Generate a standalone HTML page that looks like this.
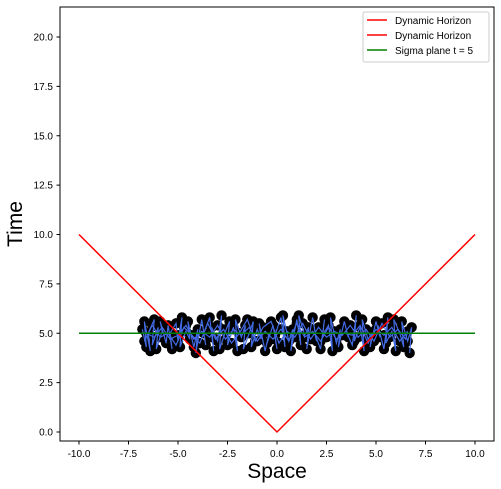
<!DOCTYPE html>
<html><head><meta charset="utf-8"><style>
body{margin:0;background:#fff;}
svg{display:block;font-family:"Liberation Sans","DejaVu Sans",sans-serif;}
</style></head><body>
<svg id="chart" width="501" height="489" viewBox="0 0 501 489">
<rect x="60" y="7" width="434" height="434" fill="#fff"/>
<g id="ticks"></g>
<g id="series"></g>
<rect x="60" y="7" width="434" height="434" fill="none" stroke="#000" stroke-width="1"/>
<text x="277" y="478" font-size="21" text-anchor="middle">Space</text>
<text x="22" y="224" font-size="21" text-anchor="middle" transform="rotate(-90 22 224)">Time</text>
<g>
<rect x="363" y="12" width="126" height="50" rx="2" fill="#fff" fill-opacity="0.8" stroke="#ccc"/>
<line x1="367" y1="20" x2="387" y2="20" stroke="red" stroke-width="1.5"/>
<text x="395" y="24" font-size="10">Dynamic Horizon</text>
<line x1="367" y1="35" x2="387" y2="35" stroke="red" stroke-width="1.5"/>
<text x="395" y="39" font-size="10">Dynamic Horizon</text>
<line x1="367" y1="50" x2="387" y2="50" stroke="green" stroke-width="1.5"/>
<text x="395" y="54" font-size="10">Sigma plane t = 5</text>
</g>
</svg>
<script>
const xTicks=[-10,-7.5,-5,-2.5,0,2.5,5,7.5,10];
const yTicks=[0,2.5,5,7.5,10,12.5,15,17.5,20];
const horizonX=[-10,0,10];
const horizonT=[10,0,10];
const sigmaT=5;
const ptX=[-6.8,-6.6,-6.7,-6.4,-6.5,-6.2,-6.3,-6.0,-6.1,-5.8,-5.9,-5.6,-5.5,-5.3,-5.4,-5.1,-5.0,-4.8,-4.9,-4.6,-4.4,-4.5,-4.2,-4.0,-4.1,-3.8,-3.6,-3.7,-3.4,-3.2,-3.3,-3.0,-2.8,-2.9,-2.6,-2.4,-2.5,-2.2,-2.0,-2.1,-1.8,-1.6,-1.7,-1.4,-1.2,-1.3,-1.0,-0.8,-0.9,-0.6,-0.4,-0.5,-0.2,0.0,-0.1,0.2,0.4,0.3,0.6,0.8,0.7,1.0,1.2,1.1,1.4,1.6,1.5,1.8,2.0,1.9,2.2,2.4,2.3,2.6,2.8,2.7,3.0,3.2,3.1,3.4,3.6,3.5,3.8,4.0,3.9,4.2,4.4,4.3,4.6,4.8,4.7,5.0,5.2,5.1,5.4,5.6,5.5,5.8,6.0,5.9,6.2,6.4,6.3,6.6,6.8,6.7];
const ptT=[5.2,4.3,5.6,4.1,5.0,5.7,4.4,5.3,4.2,5.1,5.6,4.5,5.4,4.2,5.0,5.5,4.6,5.8,4.3,5.1,4.7,5.6,4.3,5.2,4.0,5.7,4.4,5.0,5.8,4.1,5.3,4.6,5.9,4.2,5.1,5.6,4.4,5.3,4.1,5.7,4.8,5.4,4.2,5.0,5.6,4.3,5.2,4.7,5.5,4.1,5.0,4.5,5.4,4.2,4.9,5.8,4.3,5.9,4.6,5.2,4.1,5.7,4.4,5.9,4.9,5.3,4.2,5.8,4.6,5.0,4.2,5.7,4.9,5.4,4.1,5.8,4.5,5.2,4.3,5.6,4.8,5.1,4.4,5.9,4.6,5.3,4.1,5.7,4.7,5.0,4.3,5.6,4.8,5.4,4.2,5.8,4.5,5.1,4.1,5.7,5.0,4.3,5.6,4.6,5.3,4.0];
const pt2X=[-6.7,-6.3,-5.9,-5.5,-5.1,-4.7,-4.3,-3.9,-3.5,-3.1,-2.7,-2.3,-1.9,-1.5,-1.1,-0.7,-0.3,0.1,0.5,0.9,1.3,1.7,2.1,2.5,2.9,3.3,3.7,4.1,4.5,4.9,5.3,5.7,6.1,6.5,6.6,6.2,5.8,5.4,5.0,4.6,4.2,3.8,3.4,3.0,2.6,2.2,1.8,1.4,1.0,0.6,0.2,-0.2,-0.6,-1.0,-1.4,-1.8,-2.2,-2.6,-3.0,-3.4,-3.8,-4.2,-4.6,-5.0,-5.4,-5.8,-6.2,-6.6];
const pt2T=[4.6,5.4,4.8,5.0,4.4,5.3,4.9,4.5,5.5,4.7,5.2,4.5,5.0,5.7,4.6,5.3,5.6,4.5,5.1,4.8,5.5,4.7,5.3,4.8,5.1,4.9,5.4,4.8,5.2,4.6,5.5,4.8,5.2,4.7,5.1,4.6,5.3,4.9,5.2,4.5,5.4,4.9,5.0,4.7,5.3,4.6,5.1,4.8,5.5,4.6,5.2,4.7,5.1,4.6,5.3,4.9,5.2,4.7,5.4,4.8,5.1,4.7,5.4,4.9,4.7,5.3,4.8,5.0];
const NS='http://www.w3.org/2000/svg';
const xs=v=>79+(v+10)*19.8;
const ys=v=>432-v*19.75;
const tk=document.getElementById('ticks'),se=document.getElementById('series');
function mk(tag,a,p){const e=document.createElementNS(NS,tag);for(const k in a)e.setAttribute(k,a[k]);p.appendChild(e);return e;}
xTicks.forEach(v=>{
 const l=mk('line',{x1:xs(v),x2:xs(v),y1:441,y2:444.5,stroke:'#000'},tk);
 
 
 const t=mk('text',{x:xs(v),y:457,'font-size':10,'text-anchor':'middle'},tk);t.textContent=v.toFixed(1);
 
 
});
yTicks.forEach(v=>{
 const l=mk('line',{x1:56.5,x2:60,y1:ys(v),y2:ys(v),stroke:'#000'},tk);
 
 
 const t=mk('text',{x:53,y:ys(v)+3.5,'font-size':10,'text-anchor':'end'},tk);t.textContent=v.toFixed(1);
 
 
});
function cloud(X,T){
 const n=Math.min(X.length,T.length);
 for(let i=0;i<n;i++){
  const c=mk('circle',{cx:xs(X[i]),cy:ys(T[i]),r:5.2,fill:'#000'},se);
  
  
 }
}
function path(X,T){
 const n=Math.min(X.length,T.length);
 const pts=[];for(let i=0;i<n;i++)pts.push(xs(X[i])+','+ys(T[i]));
 const pl=mk('polyline',{points:pts.join(' '),fill:'none',stroke:'royalblue','stroke-width':1.2},se);
 
 
}
cloud(ptX,ptT);cloud(pt2X,pt2T);
path(ptX,ptT);path(pt2X,pt2T);
const h=mk('polyline',{points:horizonX.map((v,i)=>xs(v)+','+ys(horizonT[i])).join(' '),fill:'none',stroke:'red','stroke-width':1.5},se);


const s=mk('line',{x1:xs(-10),x2:xs(10),y1:ys(sigmaT),y2:ys(sigmaT),stroke:'green','stroke-width':1.5},se);


</script>
</body></html>
